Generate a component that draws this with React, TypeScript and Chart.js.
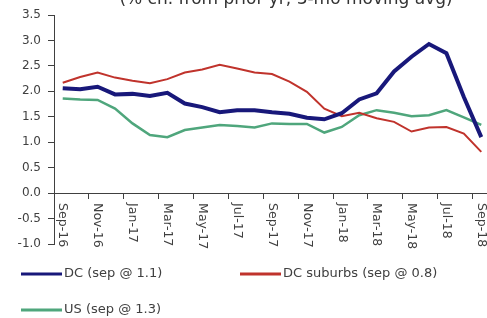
import React, { useEffect, useRef } from "react";
import { Chart, registerables } from "chart.js";

Chart.register(...registerables);

const months = [
  "Sep-16", "Oct-16", "Nov-16", "Dec-16", "Jan-17", "Feb-17", "Mar-17", "Apr-17", "May-17",
  "Jun-17", "Jul-17", "Aug-17", "Sep-17", "Oct-17", "Nov-17", "Dec-17", "Jan-18", "Feb-18",
  "Mar-18", "Apr-18", "May-18", "Jun-18", "Jul-18", "Aug-18", "Sep-18",
];

const dcValues = [
  2.06, 2.04, 2.09, 1.94, 1.95, 1.91, 1.97, 1.76, 1.69, 1.59, 1.63, 1.63, 1.59,
  1.56, 1.48, 1.45, 1.57, 1.84, 1.96, 2.39, 2.68, 2.93, 2.75, 1.89, 1.1,
];
const suburbsValues = [
  2.17, 2.28, 2.37, 2.27, 2.21, 2.16, 2.24, 2.37, 2.43, 2.52, 2.45, 2.37, 2.34,
  2.19, 1.99, 1.66, 1.51, 1.58, 1.47, 1.4, 1.21, 1.29, 1.3, 1.17, 0.81,
];
const usValues = [
  1.86, 1.84, 1.83, 1.66, 1.37, 1.14, 1.1, 1.24, 1.29, 1.34, 1.32, 1.29, 1.37,
  1.36, 1.36, 1.19, 1.3, 1.53, 1.63, 1.58, 1.51, 1.53, 1.63, 1.49, 1.34,
];

const seriesNames = ["DC (sep @ 1.1)", "DC suburbs (sep @ 0.8)", "US (sep @ 1.3)"];
const seriesColors = ["#18187a", "#c0332c", "#4fa67c"];
const titleText = "(% ch. from prior yr, 3-mo moving avg)";

const FONT = '"DejaVu Sans", sans-serif';
const TEXT = "#404040";

const overlayPlugin = {
  id: "overlay",
  afterDraw(chart: any) {
    const { ctx, scales } = chart;
    const x = scales.x;
    const y = scales.y;
    const y0 = y.getPixelForValue(0);
    ctx.save();
    // rotated x labels (clockwise)
    ctx.font = `12.5px ${FONT}`;
    ctx.fillStyle = TEXT;
    months.forEach((lab, i) => {
      if (i % 2) return;
      const px = x.getPixelForValue(i);
      ctx.save();
      ctx.translate(px, y0 + 10);
      ctx.rotate(Math.PI / 2);
      ctx.textAlign = "left";
      ctx.textBaseline = "middle";
      ctx.fillText(lab, 0, 0);
      ctx.restore();
    });
    // title (clipped at top)
    ctx.font = `17px ${FONT}`;
    ctx.fillStyle = "#333333";
    ctx.textAlign = "center";
    ctx.textBaseline = "alphabetic";
    ctx.fillText(titleText, 286, 4);
    // legend
    const items = [
      { x: 21, y: 274 },
      { x: 240, y: 274 },
      { x: 21, y: 310 },
    ];
    chart.data.datasets.forEach((ds: any, i: number) => {
      const it = items[i];
      ctx.strokeStyle = ds.borderColor;
      ctx.lineWidth = 3;
      ctx.beginPath();
      ctx.moveTo(it.x, it.y);
      ctx.lineTo(it.x + 41, it.y);
      ctx.stroke();
      ctx.font = `13px ${FONT}`;
      ctx.fillStyle = TEXT;
      ctx.textAlign = "left";
      ctx.textBaseline = "middle";
      ctx.fillText(ds.label, it.x + 43, it.y);
    });
    ctx.restore();
  },
};

export default function App() {
  const ref = useRef<HTMLCanvasElement>(null);
  useEffect(() => {
    document.body.style.margin = "0";
    if (!ref.current) return;
    const widths = [4, 2, 2.5];
    const chart = new Chart(ref.current, {
      type: "line",
      data: {
        labels: months,
        datasets: [dcValues, suburbsValues, usValues].map((d, i) => ({
          label: seriesNames[i],
          data: d,
          borderColor: seriesColors[i],
          backgroundColor: seriesColors[i],
          borderWidth: widths[i],
          pointRadius: 0,
          tension: 0,
          fill: false,
        })),
      },
      options: {
        responsive: false,
        animation: false,
        layout: { padding: { left: 0, top: 15, right: 10, bottom: 74 } },
        plugins: { legend: { display: false }, tooltip: { enabled: false }, title: { display: false } },
        scales: {
          x: {
            type: "category",
            position: { y: 0 } as any,
            offset: true,
            afterFit: (s: any) => {
              s.height = 0;
            },
            grid: {
              offset: true,
              drawOnChartArea: false,
              drawTicks: true,
              tickLength: 5,
              color: (c: any) => (c.index % 2 === 0 ? TEXT : "rgba(0,0,0,0)"),
            },
            border: { display: true, color: TEXT, width: 1 },
            ticks: { display: false },
          },
          y: {
            min: -1,
            max: 3.5,
            afterFit: (s: any) => {
              s.width = 54;
            },
            ticks: {
              stepSize: 0.5,
              color: TEXT,
              padding: 7,
              font: { family: FONT, size: 12 },
              callback: (v: any) => Number(v).toFixed(1),
            },
            grid: { drawOnChartArea: false, drawTicks: true, tickLength: 6, color: TEXT },
            border: { display: true, color: TEXT, width: 1, dash: [2, 2] },
          },
        },
      },
      plugins: [overlayPlugin],
    });
    return () => chart.destroy();
  }, []);
  return (
    <div style={{ width: 487, height: 318, overflow: "hidden", background: "#fff" }}>
      <canvas ref={ref} width={500} height={318} style={{ display: "block" }} />
    </div>
  );
}
